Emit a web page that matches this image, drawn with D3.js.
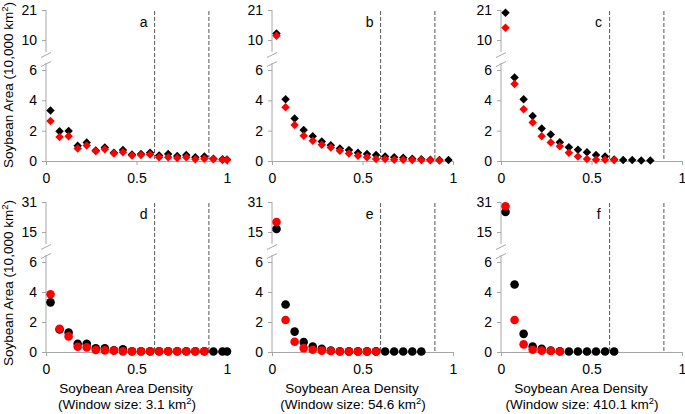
<!DOCTYPE html>
<html><head><meta charset="utf-8">
<script src="https://cdn.jsdelivr.net/npm/d3@7"></script>
<style>
body{margin:0;background:#fff}
text{font-family:"Liberation Sans",Arial,sans-serif;fill:#000}
</style>
</head><body><svg id="chart" width="685" height="414"></svg>
<script>
// ---- data ----
const densityBins = [0.025,0.075,0.125,0.175,0.225,0.275,0.325,0.375,0.425,0.475,0.525,0.575,0.625,0.675,0.725,0.775,0.825,0.875,0.925,0.975,1.0];
const xTicks = [0, 0.5, 1];
const xTickLabels = ["0", "0.5", "1"];
const topYTicks = [0, 2, 4, 6, 10, 21];
const bottomYTicks = [0, 2, 4, 6, 15, 31];
const thresholds = [0.6, 0.9];
const panelLetters = ["a","b","c","d","e","f"];
const windowSizes = ["3.1", "54.6", "410.1"];

const aBlack = [3.33,1.96,1.98,1.00,1.22,0.70,0.89,0.55,0.72,0.43,0.46,0.54,0.37,0.46,0.33,0.40,0.24,0.30,0.15,0.11,0.10];
const aRed   = [2.63,1.59,1.63,0.83,1.02,0.65,0.78,0.50,0.57,0.37,0.39,0.43,0.24,0.24,0.20,0.24,0.11,0.15,0.11,0.07,0.06];
const bBlack = [12.4,4.07,2.80,2.04,1.63,1.28,1.04,0.83,0.72,0.54,0.46,0.39,0.30,0.24,0.22,0.15,0.11,0.08,0.06,0.07];
const bRed   = [11.6,3.54,2.37,1.67,1.33,1.07,0.89,0.67,0.50,0.35,0.24,0.13,0.13,0.09,0.09,0.07,0.07,0.05,0.04];
const cBlack = [20.0,5.50,4.07,2.96,2.15,1.74,1.24,0.91,0.74,0.57,0.39,0.30,0.10,0.07,0.07,0.04,0.04];
const cRed   = [14.5,5.07,3.41,2.54,1.63,1.22,0.98,0.54,0.30,0.13,0.09,0.09,0.07];
const dBlack = [3.31,1.50,1.30,0.55,0.55,0.24,0.24,0.12,0.18,0.05,0.05,0.05,0.05,0.05,0.05,0.05,0.05,0.05,0.03,0.03,0.03];
const dRed   = [3.85,1.55,1.04,0.35,0.31,0.13,0.11,0.09,0.04,0.04,0.04,0.04,0.04,0.04,0.04,0.04,0.04,0.04];
const eBlack = [16.6,3.17,1.36,0.66,0.37,0.22,0.10,0.05,0.04,0.04,0.04,0.04,0.03,0.03,0.03,0.03,0.03];
const eRed   = [20.3,2.13,0.68,0.26,0.15,0.09,0.07,0.03,0.03,0.03,0.03,0.03];
const fBlack = [25.7,4.50,1.21,0.37,0.22,0.10,0.05,0.03,0.03,0.03,0.03,0.03,0.03];
const fRed   = [28.7,2.13,0.51,0.15,0.09,0.07,0.03];

// ---- layout ----
const colX = [46, 272, 501];
const plotW = 181;
const rows = [
  {ticks: topYTicks, range: [161, 70, 40, 10], brk: [52, 61], marker: "diamond"},
  {ticks: bottomYTicks, range: [352, 262, 232, 202], brk: [244, 253], marker: "circle"}
];
const panels = [
  {black: aBlack, red: aRed}, {black: bBlack, red: bRed}, {black: cBlack, red: cRed},
  {black: dBlack, red: dRed}, {black: eBlack, red: eRed}, {black: fBlack, red: fRed}
];
const axisColor = "#a6a6a6";
const svg = d3.select("#chart");
const diamond = d3.symbol().type(d3.symbolSquare).size(36);

panels.forEach((p, i) => {
  const r = Math.floor(i / 3), c = i % 3;
  const row = rows[r];
  const x0 = colX[c];
  const x = d3.scaleLinear().domain([0, 1]).range([x0, x0 + plotW]);
  const t = row.ticks;
  const y = d3.scaleLinear().domain([t[0], t[3], t[4], t[5]]).range(row.range);
  const g = svg.append("g");

  // x axis
  const xa = g.append("g").attr("transform", `translate(0,${y(0)})`)
    .call(d3.axisBottom(x).tickValues(xTicks).tickFormat((d, k) => xTickLabels[k]).tickSize(4).tickSizeOuter(0));
  xa.select(".domain").attr("stroke", axisColor);
  xa.selectAll(".tick line").attr("stroke", axisColor);
  xa.selectAll(".tick text").attr("font-size", 14).attr("font-family", '"Liberation Sans",Arial,sans-serif').attr("fill", "#000").attr("dy", "1.05em");

  // y axis (ticks + labels), domain drawn with break
  const ya = g.append("g").attr("transform", `translate(${x0},0)`)
    .call(d3.axisLeft(y).tickValues(t).tickFormat(d3.format("d")).tickSize(4));
  ya.select(".domain").remove();
  ya.selectAll(".tick line").attr("stroke", axisColor);
  ya.selectAll(".tick text").attr("font-size", 14).attr("font-family", '"Liberation Sans",Arial,sans-serif').attr("fill", "#000").attr("x", -9);
  g.append("line").attr("x1", x0).attr("x2", x0).attr("y1", y(t[5])).attr("y2", row.brk[0]).attr("stroke", axisColor);
  g.append("line").attr("x1", x0).attr("x2", x0).attr("y1", row.brk[1] + 2).attr("y2", y(0)).attr("stroke", axisColor);
  [row.brk[0] + 3, row.brk[1] + 3].forEach(yy => {
    g.append("line").attr("x1", x0 - 5).attr("y1", yy + 2.5).attr("x2", x0 + 5).attr("y2", yy - 2.5)
      .attr("stroke", axisColor);
  });

  // threshold dashed lines
  thresholds.forEach(v => {
    g.append("line").attr("x1", x(v)).attr("x2", x(v)).attr("y1", y(t[5]) + 1).attr("y2", y(0))
      .attr("stroke", "#555").attr("stroke-dasharray", "4,2").attr("stroke-width", 1);
  });

  // panel letter
  g.append("text").attr("x", x(0.6) - 11).attr("y", y(t[5]) + 17).attr("text-anchor", "middle")
    .attr("font-size", 14).text(panelLetters[i]);

  // points
  [["black", p.black], ["#ff0000", p.red]].forEach(([col, vals]) => {
    const data = vals.map((v, k) => ({x: densityBins[k], y: v}));
    if (row.marker === "diamond") {
      g.selectAll(null).data(data).enter().append("path")
        .attr("d", diamond)
        .attr("transform", d => `translate(${x(d.x)},${y(d.y)}) rotate(45)`)
        .attr("fill", col);
    } else {
      g.selectAll(null).data(data).enter().append("circle")
        .attr("cx", d => x(d.x)).attr("cy", d => y(d.y)).attr("r", 4.3)
        .attr("fill", col);
    }
  });
});

// y axis titles
[85, 283].forEach(cy => {
  const tx = svg.append("text").attr("transform", `translate(13,${cy}) rotate(-90)`)
    .attr("text-anchor", "middle").attr("font-size", 13.5);
  tx.append("tspan").text("Soybean Area (10,000 km");
  tx.append("tspan").attr("dy", -5).attr("font-size", 9.5).text("2");
  tx.append("tspan").attr("dy", 5).text(")");
});

// x axis titles
colX.forEach((x0, c) => {
  svg.append("text").attr("x", x0 + 80).attr("y", 393).attr("text-anchor", "middle")
    .attr("font-size", 13.5).text("Soybean Area Density");
  const tx = svg.append("text").attr("x", x0 + 81).attr("y", 409).attr("text-anchor", "middle")
    .attr("font-size", 13.5);
  tx.append("tspan").text(`(Window size: ${windowSizes[c]} km`);
  tx.append("tspan").attr("dy", -5).attr("font-size", 9.5).text("2");
  tx.append("tspan").attr("dy", 5).text(")");
});
</script>
</body></html>
